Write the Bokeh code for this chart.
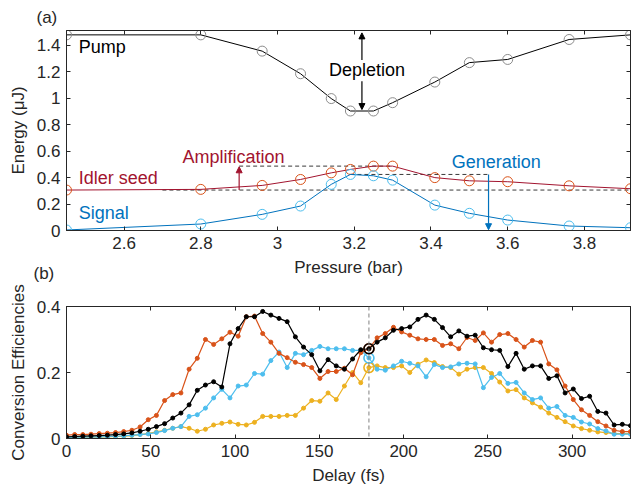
from bokeh.plotting import figure
from bokeh.models import (Range1d, LinearAxis, FixedTicker, Label, Arrow, Title,
                          NormalHead, Span, CustomJSTickFormatter)
from bokeh.layouts import column
from bokeh.embed import file_html
from bokeh.resources import INLINE

FONT = "Liberation Sans"
AX = "#262626"

# ---------------- panel (a) data ----------------
pressure = [2.45, 2.80, 2.96, 3.06, 3.14, 3.19, 3.25, 3.30, 3.41, 3.50, 3.60, 3.76, 3.92]
pump = [1.48, 1.48, 1.357, 1.186, 0.998, 0.904, 0.904, 0.967, 1.123, 1.27, 1.294, 1.445, 1.48]
idler = [0.306, 0.311, 0.341, 0.386, 0.436, 0.462, 0.487, 0.487, 0.40, 0.376, 0.369, 0.338, 0.316]
signal = [0.004, 0.049, 0.122, 0.185, 0.349, 0.424, 0.414, 0.381, 0.192, 0.13, 0.079, 0.034, 0.021]
a_xticks = [2.6, 2.8, 3.0, 3.2, 3.4, 3.6, 3.8]
a_yticks = [0, 0.2, 0.4, 0.6, 0.8, 1.0, 1.2, 1.4]

# ---------------- panel (b) data ----------------
delay = [0.0, 4.85, 9.7, 14.55, 19.4, 24.25, 29.1, 33.95, 38.8, 43.65, 48.5, 53.35,
         58.2, 63.05, 67.9, 72.75, 77.6, 82.45, 87.3, 92.15, 97.0, 101.85, 106.7,
         111.55, 116.4, 121.25, 126.1, 130.95, 135.8, 140.65, 145.5, 150.35, 155.2,
         160.05, 164.9, 169.75, 174.6, 179.45, 184.3, 189.15, 194.0, 198.85, 203.7,
         208.55, 213.4, 218.25, 223.1, 227.95, 232.8, 237.65, 242.5, 247.35, 252.2,
         257.05, 261.9, 266.75, 271.6, 276.45, 281.3, 286.15, 291.0, 295.85, 300.7,
         305.55, 310.4, 315.25, 320.1, 324.95, 329.8, 334.65]
eff_black = [0.005, 0.006, 0.007, 0.008, 0.009, 0.010, 0.012, 0.014, 0.017, 0.022, 0.028, 0.036, 0.045,
             0.062, 0.077, 0.102, 0.146, 0.162, 0.172, 0.156,
             0.287, 0.333, 0.369, 0.369, 0.385, 0.374, 0.364, 0.354, 0.308, 0.277,
             0.254, 0.205, 0.239, 0.220, 0.210, 0.241, 0.269, 0.272, 0.292, 0.305,
             0.328, 0.333, 0.338, 0.361, 0.374, 0.361, 0.336, 0.308, 0.326, 0.310,
             0.313, 0.275, 0.269, 0.267, 0.218, 0.258, 0.210, 0.220, 0.220, 0.182,
             0.190, 0.138, 0.150, 0.121, 0.128, 0.082, 0.077, 0.041, 0.043, 0.039]
eff_orange = [0.010, 0.012, 0.012, 0.013, 0.015, 0.016, 0.018, 0.021,
              0.025, 0.035, 0.057, 0.070, 0.115,
              0.133, 0.138, 0.210, 0.243, 0.300, 0.285, 0.302,
              0.322, 0.310, 0.369, 0.371, 0.318, 0.292, 0.258, 0.245, 0.231, 0.224,
              0.215, 0.182, 0.203, 0.203, 0.213, 0.193, 0.260, 0.272, 0.305, 0.318,
              0.337, 0.323, 0.313, 0.302, 0.300, 0.300, 0.282, 0.287, 0.272, 0.306,
              0.297, 0.320, 0.292, 0.315, 0.318, 0.300, 0.277, 0.297, 0.292, 0.226,
              0.208, 0.159, 0.118, 0.087, 0.070, 0.051, 0.038, 0.025, 0.021, 0.021]
eff_blue = [0.003, 0.004, 0.004, 0.005, 0.005, 0.006, 0.007, 0.008, 0.010, 0.012, 0.014, 0.018, 0.024,
            0.031, 0.036, 0.067, 0.072, 0.092, 0.123, 0.149,
            0.123, 0.159, 0.162, 0.197, 0.195, 0.236, 0.262, 0.215, 0.258, 0.254,
            0.267, 0.279, 0.272, 0.272, 0.272, 0.267, 0.267, 0.244, 0.210, 0.207,
            0.220, 0.234, 0.228, 0.220, 0.187, 0.224, 0.215, 0.217, 0.226, 0.228,
            0.226, 0.154, 0.185, 0.197, 0.167, 0.170, 0.138, 0.118, 0.123, 0.092,
            0.097, 0.070, 0.064, 0.050, 0.044, 0.030, 0.023, 0.013, 0.013, 0.013]
eff_yellow = [0.003, 0.003, 0.004, 0.004, 0.005, 0.005, 0.006, 0.007, 0.009, 0.012, 0.015, 0.020, 0.025,
              0.031, 0.036, 0.031, 0.022, 0.028, 0.041, 0.046,
              0.050, 0.043, 0.041, 0.049, 0.067, 0.067, 0.067, 0.070, 0.070, 0.092,
              0.115, 0.113, 0.138, 0.118, 0.159, 0.200, 0.169, 0.215, 0.220, 0.215,
              0.215, 0.220, 0.200, 0.225, 0.238, 0.230, 0.218, 0.215, 0.195, 0.210,
              0.215, 0.215, 0.197, 0.171, 0.144, 0.148, 0.123, 0.108, 0.095, 0.077,
              0.064, 0.051, 0.038, 0.030, 0.025, 0.020, 0.018, 0.015, 0.015, 0.015]
marked = 37  # index of the highlighted delay
b_xticks = [0, 50, 100, 150, 200, 250, 300]
b_yticks = [0, 0.2, 0.4]

fmt = CustomJSTickFormatter(code="return tick.toFixed(1).replace(/\\.0$/, '');")
blank = CustomJSTickFormatter(code="return '';")


def style(p, xticks, yticks):
    for ax in (p.xaxis[0], p.yaxis[0]):
        ax.formatter = fmt
        ax.major_tick_in = 4
        ax.major_tick_out = 0
        ax.minor_tick_line_color = None
        ax.axis_line_color = AX
        ax.major_tick_line_color = AX
        ax.major_label_text_color = AX
        ax.major_label_text_font = FONT
        ax.major_label_text_font_size = "17px"
        ax.major_label_standoff = 6
        ax.axis_label_text_font = FONT
        ax.axis_label_text_font_size = "17px"
        ax.axis_label_text_font_style = "normal"
        ax.axis_label_text_color = AX
        ax.axis_label_standoff = 6
    p.xaxis[0].ticker = FixedTicker(ticks=xticks)
    p.yaxis[0].ticker = FixedTicker(ticks=yticks)
    for loc, ticks in (("above", xticks), ("right", yticks)):
        ax = LinearAxis(ticker=FixedTicker(ticks=ticks), formatter=blank,
                        major_label_standoff=0, major_tick_in=4, major_tick_out=0,
                        minor_tick_line_color=None, axis_line_color=AX,
                        major_tick_line_color=AX)
        p.add_layout(ax, loc)
    p.xgrid.visible = False
    p.ygrid.visible = False
    p.outline_line_color = AX
    p.background_fill_color = "white"
    p.border_fill_color = "white"


# ---------------- figure (a) ----------------
pa = figure(frame_width=564, frame_height=200, min_border_left=66, min_border_right=2,
            min_border_top=30, min_border_bottom=54,
            x_range=Range1d(2.45, 3.92), y_range=Range1d(0, 1.513),
            output_backend="svg", toolbar_location=None,
            x_axis_label="Pressure (bar)", y_axis_label="Energy (\u03bcJ)")
style(pa, a_xticks, a_yticks)

pa.add_layout(Title(text="(a)", align="left", offset=-30, standoff=6, vertical_align="middle",
                    text_font=FONT, text_font_size="17px", text_font_style="normal",
                    text_color=AX), "above")
pa.add_layout(Title(text="(b)", align="left", offset=-33, standoff=-32, vertical_align="top",
                    text_font=FONT, text_font_size="17px", text_font_style="normal",
                    text_color=AX), "below")

dash_col = "#3a3a3a"
pa.line([2.70, 3.92], [0.306, 0.306], line_color=dash_col, line_dash="4 3", line_width=1)
pa.line([2.90, 3.30], [0.487, 0.487], line_color=dash_col, line_dash="4 3", line_width=1)
pa.line([3.19, 3.55], [0.424, 0.424], line_color=dash_col, line_dash="4 3", line_width=1)

pa.line(pressure, pump, line_color="black", line_width=1)
pa.scatter(pressure, pump, marker="circle", size=10, fill_color=None, line_color="#8c8c8c", line_width=1)
pa.line(pressure, idler, line_color="#A2142F", line_width=1)
pa.scatter(pressure, idler, marker="circle", size=10, fill_color=None, line_color="#D95319", line_width=1)
pa.line(pressure, signal, line_color="#0072BD", line_width=1)
pa.scatter(pressure, signal, marker="circle", size=10, fill_color=None, line_color="#4DBEEE", line_width=1)


def arrow(p, x0, y0, x1, y1, col):
    p.add_layout(Arrow(end=NormalHead(size=6, fill_color=col, line_color=col),
                       x_start=x0, y_start=y0, x_end=x1, y_end=y1,
                       line_color=col, line_width=1.2))


arrow(pa, 3.22, 1.29, 3.22, 1.495, "black")
arrow(pa, 3.22, 1.13, 3.22, 0.915, "black")
arrow(pa, 2.90, 0.306, 2.90, 0.482, "#A2142F")
arrow(pa, 3.55, 0.424, 3.55, 0.006, "#0072BD")


def txt(p, x, y, s, col, align="left", size="18px"):
    p.add_layout(Label(x=x, y=y, text=s,
                       text_font=FONT, text_font_size=size, text_color=col,
                       text_align=align, text_baseline="middle"))


txt(pa, 2.482, 1.387, "Pump", "black")
txt(pa, 2.482, 0.394, "Idler seed", "#A2142F")
txt(pa, 2.482, 0.13, "Signal", "#0072BD")
txt(pa, 3.233, 1.211, "Depletion", "black", "center")
txt(pa, 2.885, 0.557, "Amplification", "#A2142F", "center")
txt(pa, 3.57, 0.515, "Generation", "#0072BD", "center")

# ---------------- figure (b) ----------------
pb = figure(frame_width=564, frame_height=132, min_border_left=66, min_border_right=2,
            min_border_top=22, min_border_bottom=52,
            x_range=Range1d(0, 334.65), y_range=Range1d(0, 0.4),
            output_backend="svg", toolbar_location=None,
            x_axis_label="Delay (fs)", y_axis_label="Conversion Efficiencies")
style(pb, b_xticks, b_yticks)

pb.add_layout(Span(location=delay[marked], dimension="height", line_color="#808080",
                   line_dash="4 3", line_width=1))

series = [(eff_yellow, "#EDB120"), (eff_blue, "#4DBEEE"), (eff_orange, "#D95319"), (eff_black, "black")]
for vals, col in series:
    pb.line(delay, vals, line_color=col, line_width=1.2)
    pb.scatter(delay, vals, marker="circle", size=4, fill_color=col, line_color=col)
for vals, col in series:
    pb.scatter([delay[marked]], [vals[marked]], marker="circle", size=10, fill_color=None,
               line_color=col, line_width=1.6)

layout = column(pa, pb, spacing=0)
open("out.html", "w").write(file_html(layout, INLINE))
